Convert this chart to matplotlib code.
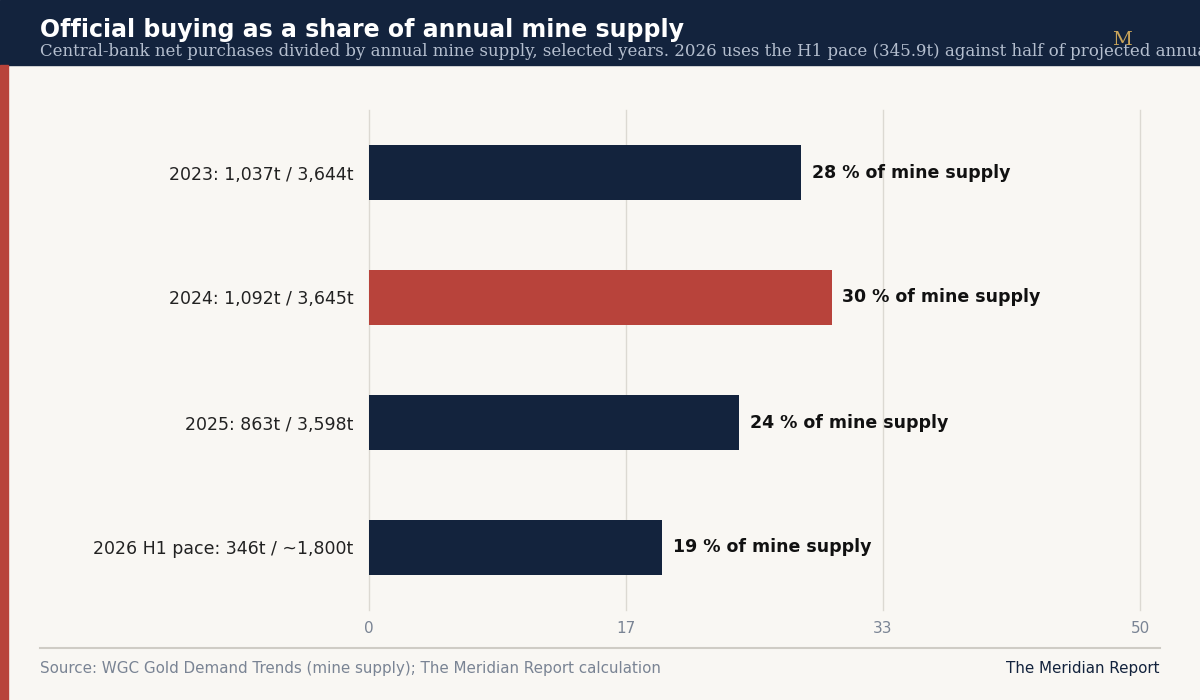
import matplotlib
matplotlib.use("Agg")
import matplotlib.pyplot as plt
from matplotlib.patches import Rectangle
from matplotlib.lines import Line2D

plt.rcParams['font.family'] = ['DejaVu Sans']
plt.rcParams['font.sans-serif'] = ['DejaVu Sans']
F = "DejaVu Sans"

categories = ["2023: 1,037t / 3,644t", "2024: 1,092t / 3,645t", "2025: 863t / 3,598t", "2026 H1 pace: 346t / ~1,800t"]
values = [28, 30, 24, 19]
highlight = [False, True, False, False]
tick_vals = [0, 50/3, 100/3, 50]
tick_labels = ["0", "17", "33", "50"]

NAVY = "#13233d"
RED = "#b8433b"
BG = "#f9f7f3"

fig = plt.figure(figsize=(12, 7), dpi=100, facecolor=BG)
fig.patches.append(Rectangle((0, 1 - 65/700), 1, 65/700, transform=fig.transFigure, color=NAVY, zorder=0))
fig.patches.append(Rectangle((0, 0), 8/1200, 1 - 65/700, transform=fig.transFigure, color=RED, zorder=0))
fig.text(40/1200, 1 - 30/700, "Official buying as a share of annual mine supply", color="white",
         fontsize=17, fontweight="bold", family=F, va="center", ha="left")
fig.text(40/1200, 1 - 52/700, "Central-bank net purchases divided by annual mine supply, selected years. 2026 uses the H1 pace (345.9t) against half of projected annual supply.",
         color="#b5bfcf", fontsize=12, family="DejaVu Serif", va="center", ha="left")
fig.text(1122/1200, 1 - 40/700, "M", color="#c9a45a", fontsize=14, family="DejaVu Serif", va="center", ha="center")

ax = fig.add_axes([369/1200, 1 - 610/700, 771/1200, 500/700])
ax.set_facecolor(BG)
y = list(range(len(categories)))
colors = [RED if h else NAVY for h in highlight]
ax.barh(y, values, height=0.44, color=colors, zorder=3)
for yi, v in zip(y, values):
    ax.text(v + 0.7, yi, f"{v} % of mine supply", va="center", ha="left", fontsize=12.5,
            fontweight="bold", color="#111111", family=F)
ax.set_xlim(0, 50)
ax.set_ylim(3.5, -0.5)
ax.set_yticks(y)
ax.set_yticklabels(categories, fontsize=12.5, color="#222222", family=F)
ax.set_xticks(tick_vals)
ax.set_xticklabels(tick_labels, fontsize=11, color="#7a8494", family=F)
ax.tick_params(length=0, pad=8)
ax.tick_params(axis="y", pad=11)
for tv in tick_vals:
    ax.axvline(tv, color="#dcd9d2", linewidth=1, zorder=0, clip_on=False)
for s in ax.spines.values():
    s.set_visible(False)

fig.add_artist(Line2D([40/1200, 1160/1200], [1 - 648/700] * 2, color="#cfccc5", linewidth=1.5))
fig.text(40/1200, 1 - 668/700, "Source: WGC Gold Demand Trends (mine supply); The Meridian Report calculation",
         color="#7a8494", fontsize=10.9, va="center", ha="left", family=F)
fig.text(1160/1200, 1 - 668/700, "The Meridian Report", color=NAVY, fontsize=10.9, va="center", ha="right", family=F)

fig.savefig("out.png", dpi=100, facecolor=BG)
